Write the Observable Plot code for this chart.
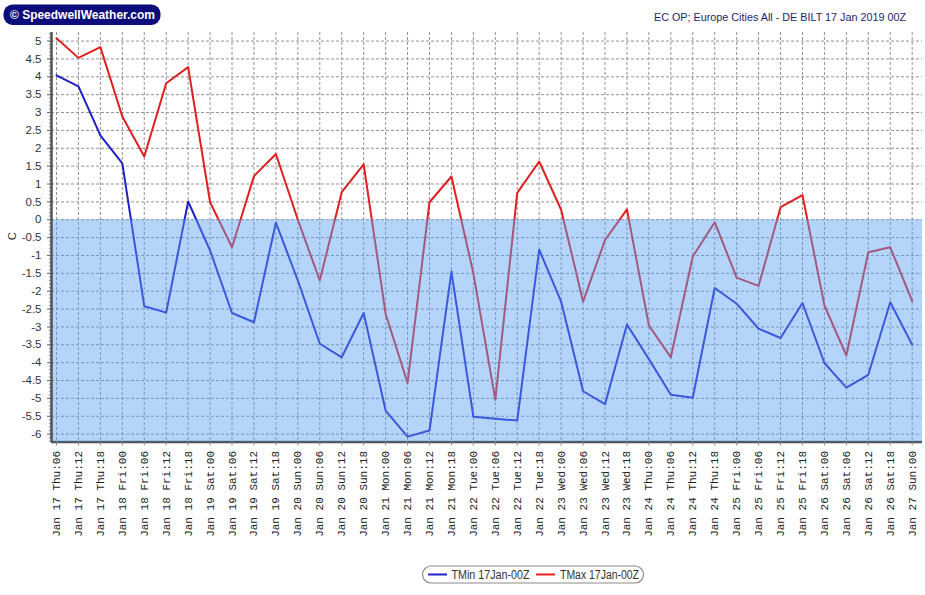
<!DOCTYPE html>
<html><head><meta charset="utf-8">
<script src="https://cdn.jsdelivr.net/npm/d3@7"></script>
<script src="https://cdn.jsdelivr.net/npm/@observablehq/plot@0.6"></script>
<style>
html,body{margin:0;padding:0;background:#fff;}
#wrap{position:relative;width:925px;height:595px;overflow:hidden;}
#wrap > svg{position:absolute;left:0;top:0;}
</style></head><body><div id="wrap"></div>
<script>
const labels = [
  "Jan 17 Thu:06","Jan 17 Thu:12","Jan 17 Thu:18",
  "Jan 18 Fri:00","Jan 18 Fri:06","Jan 18 Fri:12","Jan 18 Fri:18",
  "Jan 19 Sat:00","Jan 19 Sat:06","Jan 19 Sat:12","Jan 19 Sat:18",
  "Jan 20 Sun:00","Jan 20 Sun:06","Jan 20 Sun:12","Jan 20 Sun:18",
  "Jan 21 Mon:00","Jan 21 Mon:06","Jan 21 Mon:12","Jan 21 Mon:18",
  "Jan 22 Tue:00","Jan 22 Tue:06","Jan 22 Tue:12","Jan 22 Tue:18",
  "Jan 23 Wed:00","Jan 23 Wed:06","Jan 23 Wed:12","Jan 23 Wed:18",
  "Jan 24 Thu:00","Jan 24 Thu:06","Jan 24 Thu:12","Jan 24 Thu:18",
  "Jan 25 Fri:00","Jan 25 Fri:06","Jan 25 Fri:12","Jan 25 Fri:18",
  "Jan 26 Sat:00","Jan 26 Sat:06","Jan 26 Sat:12","Jan 26 Sat:18",
  "Jan 27 Sun:00"
];
const tmin = [4.04,3.73,2.36,1.58,-2.42,-2.60,0.51,-0.86,-2.61,-2.87,
  -0.08,-1.70,-3.47,-3.85,-2.61,-5.34,-6.07,-5.90,-1.45,-5.51,
  -5.57,-5.62,-0.84,-2.29,-4.80,-5.16,-2.93,-3.90,-4.90,-4.98,
  -1.91,-2.35,-3.05,-3.31,-2.33,-4.01,-4.70,-4.34,-2.31,-3.50];
const tmax = [5.08,4.53,4.83,2.89,1.77,3.82,4.27,0.49,-0.77,1.22,
  1.84,0.00,-1.70,0.77,1.55,-2.63,-4.57,0.49,1.21,-1.50,
  -5.04,0.75,1.63,0.28,-2.29,-0.57,0.29,-2.96,-3.85,-1.03,
  -0.07,-1.62,-1.85,0.35,0.69,-2.40,-3.80,-0.91,-0.77,-2.28];
const yTicks = [-6,-5.5,-5,-4.5,-4,-3.5,-3,-2.5,-2,-1.5,-1,-0.5,0,0.5,1,1.5,2,2.5,3,3.5,4,4.5,5];
const yMinor = d3.range(-62, 53).map(d => d / 10);
const seriesNames = ["TMin 17Jan-00Z", "TMax 17Jan-00Z"];
const seriesColors = ["#2020c8", "#e02020"];

const xDomain = [-0.228, 39.47];
const yDomain = [-6.22, 5.24];
const idx = labels.map((d, i) => i);
const data = labels.map((d, i) => ({i, label: d, tmin: tmin[i], tmax: tmax[i]}));

const chart = Plot.plot({
  width: 925, height: 595,
  marginLeft: 51, marginRight: 3, marginTop: 32, marginBottom: 153.5,
  style: {fontFamily: "Liberation Sans, Arial, sans-serif", fontSize: "11px", background: "transparent"},
  x: {type: "linear", domain: xDomain},
  y: {type: "linear", domain: yDomain},
  marks: [
    Plot.ruleY(yTicks, {stroke: "#939393", strokeDasharray: "3,2", strokeWidth: 1}),
    Plot.ruleX(idx, {stroke: "#939393", strokeDasharray: "3,2", strokeWidth: 1}),
    Plot.line(data, {x: "i", y: "tmax", stroke: seriesColors[1], strokeWidth: 2}),
    Plot.line(data, {x: "i", y: "tmin", stroke: seriesColors[0], strokeWidth: 2}),
    Plot.ruleY([yDomain[0]], {stroke: "#505050", strokeWidth: 2.5}),
    Plot.rect([{x1: xDomain[0], x2: xDomain[1], y1: 0, y2: yDomain[0]}],
      {x1: "x1", x2: "x2", y1: "y1", y2: "y2", fill: "#5aa0f5", fillOpacity: 0.45}),
    Plot.ruleX([xDomain[0]], {stroke: "#505050", strokeWidth: 2.5}),
    Plot.axisY(yMinor, {tickSize: 2, tickFormat: () => "", stroke: "#777", label: null}),
    Plot.axisY(yTicks, {tickSize: 4, tickPadding: 6, tickFormat: d => String(d), fill: "#333", stroke: "#666", label: null, fontSize: 11.5}),
    Plot.axisX(idx, {tickSize: 4, tickPadding: 5, tickRotate: -90, tickFormat: i => labels[i],
      fontFamily: "Liberation Mono, monospace", fontSize: 11, fill: "#222", stroke: "#888", label: null})
  ]
});
const wrap = document.getElementById("wrap");
wrap.appendChild(chart);

const ns = "http://www.w3.org/2000/svg";
const ov = document.createElementNS(ns, "svg");
ov.setAttribute("width", 925); ov.setAttribute("height", 595);
ov.style.fontFamily = "Liberation Sans, Arial, sans-serif";
ov.innerHTML = `
  <rect x="3.5" y="4.5" width="157" height="20.5" rx="9" fill="#0c0c7a"/>
  <text x="10" y="18.6" fill="#fff" font-weight="bold" font-size="12.5" textLength="145" lengthAdjust="spacingAndGlyphs">© SpeedwellWeather.com</text>
  <text x="654" y="20.8" fill="#1e1e70" font-size="11" textLength="252" lengthAdjust="spacingAndGlyphs">EC OP; Europe Cities All - DE BILT 17 Jan 2019 00Z</text>
  <text transform="translate(16,236) rotate(-90)" text-anchor="middle" fill="#333" font-size="11.5">C</text>
  <rect x="422.5" y="566" width="221" height="17" rx="8.5" fill="#fff" stroke="#8a8a8a" stroke-width="1.2"/>
  <line x1="428" x2="447" y1="574.5" y2="574.5" stroke="${seriesColors[0]}" stroke-width="2"/>
  <text x="451.5" y="578.8" fill="#333" font-size="12" textLength="78" lengthAdjust="spacingAndGlyphs">${seriesNames[0]}</text>
  <line x1="536" x2="555" y1="574.5" y2="574.5" stroke="${seriesColors[1]}" stroke-width="2"/>
  <text x="560" y="578.8" fill="#333" font-size="12" textLength="79" lengthAdjust="spacingAndGlyphs">${seriesNames[1]}</text>
`;
wrap.appendChild(ov);
</script></body></html>
